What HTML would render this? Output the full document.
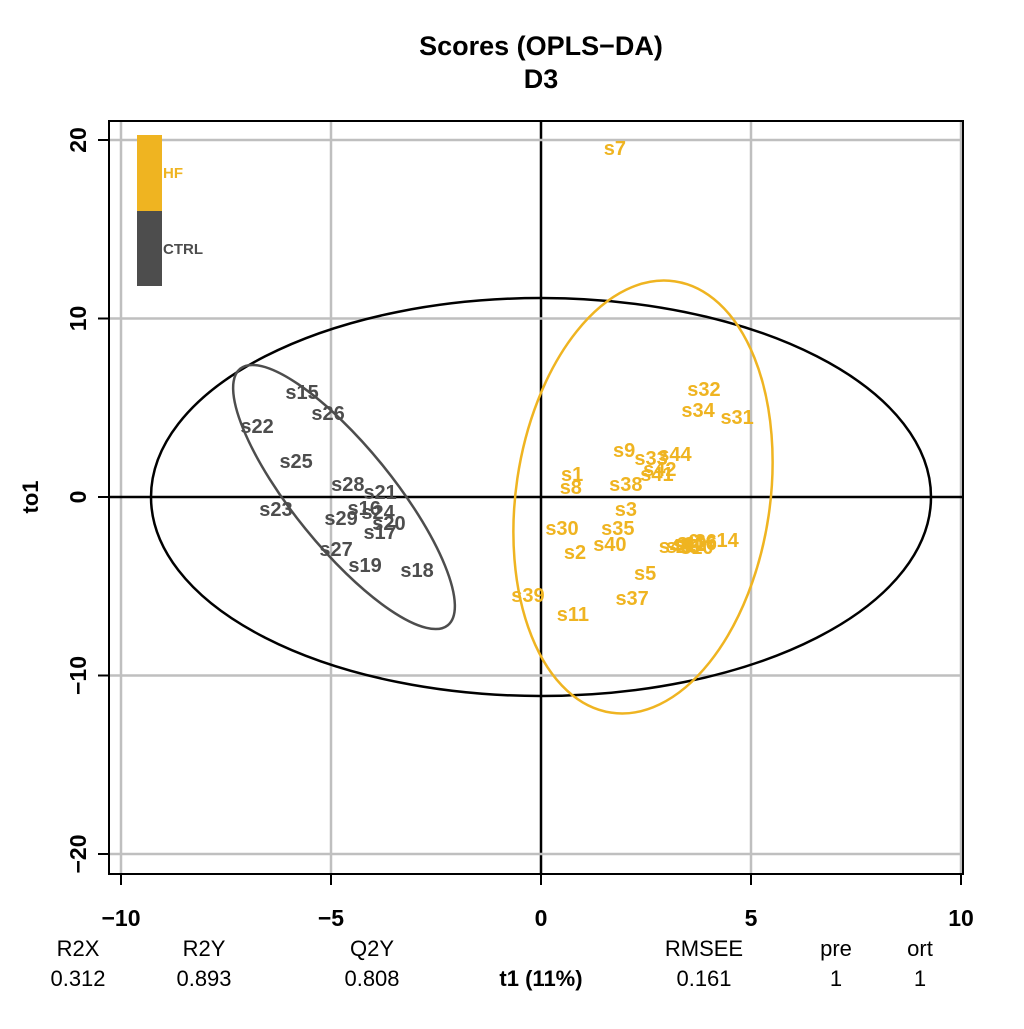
<!DOCTYPE html>
<html><head><meta charset="utf-8"><style>
body{margin:0;background:#fff}
svg text{font-family:"Liberation Sans",Arial,sans-serif}
</style></head><body>
<svg width="1024" height="1024" viewBox="0 0 1024 1024">
<rect width="1024" height="1024" fill="#fff"/>
<text x="541" y="55" font-size="27" font-weight="bold" text-anchor="middle">Scores (OPLS−DA)</text>
<text x="541" y="88" font-size="27" font-weight="bold" text-anchor="middle">D3</text>
<g id="grid"></g>
<ellipse cx="541" cy="497" rx="390" ry="199" fill="none" stroke="#000" stroke-width="2.5"/>
<ellipse cx="344" cy="497" rx="165" ry="50" transform="rotate(51 344 497)" fill="none" stroke="#4d4d4d" stroke-width="2.5"/>
<ellipse cx="643" cy="497" rx="127" ry="218" transform="rotate(8.4 643 497)" fill="none" stroke="#EFB421" stroke-width="2.5"/>
<g id="points"></g>
<rect x="109" y="121" width="854" height="753" fill="none" stroke="#000" stroke-width="2"/>
<g id="axes"></g>
<rect x="137" y="135" width="25" height="76" fill="#EFB421"/>
<rect x="137" y="211" width="25" height="75" fill="#4d4d4d"/>
<text x="163" y="178" font-size="15" font-weight="bold" fill="#EFB421">HF</text>
<text x="163" y="254" font-size="15" font-weight="bold" fill="#4d4d4d">CTRL</text>
<text transform="translate(38 497) rotate(-90)" font-size="22" font-weight="bold" text-anchor="middle">to1</text>
<text x="541" y="986" font-size="22" font-weight="bold" text-anchor="middle">t1 (11%)</text>
<g font-size="22" text-anchor="middle">
<text x="78" y="956">R2X</text><text x="78" y="986">0.312</text>
<text x="204" y="956">R2Y</text><text x="204" y="986">0.893</text>
<text x="372" y="956">Q2Y</text><text x="372" y="986">0.808</text>
<text x="704" y="956">RMSEE</text><text x="704" y="986">0.161</text>
<text x="836" y="956">pre</text><text x="836" y="986">1</text>
<text x="920" y="956">ort</text><text x="920" y="986">1</text>
</g>
</svg>
<script>
const xTicks=[-10,-5,0,5,10];
const yTicks=[-20,-10,0,10,20];
const labels=["s7","s32","s34","s31","s9","s33","s44","s42","s41","s1","s8","s38","s3","s30","s35","s40","s2","s14","s43","s13","s4","s6","s12","s36","s16","s10","s5","s37","s39","s11",
"s15","s26","s22","s25","s28","s21","s23","s16","s24","s29","s20","s17","s27","s19","s18"];
const groups=["HF","HF","HF","HF","HF","HF","HF","HF","HF","HF","HF","HF","HF","HF","HF","HF","HF","HF","HF","HF","HF","HF","HF","HF","HF","HF","HF","HF","HF","HF",
"CTRL","CTRL","CTRL","CTRL","CTRL","CTRL","CTRL","CTRL","CTRL","CTRL","CTRL","CTRL","CTRL","CTRL","CTRL"];
const t1=[1.76,3.88,3.74,4.67,1.98,2.62,3.19,2.83,2.76,0.74,0.71,2.02,2.02,0.5,1.83,1.64,0.81,4.31,3.2,3.37,3.4,3.5,3.55,3.79,3.79,3.71,2.48,2.17,-0.31,0.76,
-5.69,-5.07,-6.76,-5.83,-4.6,-3.83,-6.31,-4.21,-3.88,-4.76,-3.62,-3.83,-4.88,-4.19,-2.95];
const to1=[19.55,6.05,4.87,4.48,2.63,2.18,2.41,1.57,1.29,1.29,0.56,0.73,-0.67,-1.74,-1.74,-2.63,-3.08,-2.41,-2.75,-2.75,-2.63,-2.46,-2.63,-2.46,-2.58,-2.8,-4.26,-5.66,-5.49,-6.55,
5.88,4.71,3.98,2.02,0.73,0.28,-0.67,-0.62,-0.84,-1.18,-1.46,-1.96,-2.91,-3.81,-4.09];
const colors={HF:"#EFB421",CTRL:"#4d4d4d"};
const sx=v=>541+v*42, sy=v=>497-v*17.85;
const NS="http://www.w3.org/2000/svg";
function mk(tag,attrs,parent){const e=document.createElementNS(NS,tag);for(const k in attrs)e.setAttribute(k,attrs[k]);parent.appendChild(e);return e;}
const grid=document.getElementById('grid'), axes=document.getElementById('axes'), pts=document.getElementById('points');
xTicks.forEach(v=>{
 const l=mk('line',{x1:sx(v),x2:sx(v),y1:121,y2:874,stroke:v===0?'#000':'#bfbfbf','stroke-width':2.5},grid);
 
 
 const t=mk('line',{x1:sx(v),x2:sx(v),y1:874,y2:885,stroke:'#000','stroke-width':2},axes);
 
 
 const tx=mk('text',{x:sx(v),y:926,'font-size':23,'font-weight':'bold','text-anchor':'middle'},axes);
 tx.textContent=v<0?'−'+Math.abs(v):String(v);
 
 
});
yTicks.forEach(v=>{
 const l=mk('line',{x1:109,x2:963,y1:sy(v),y2:sy(v),stroke:v===0?'#000':'#bfbfbf','stroke-width':2.5},grid);
 
 
 const t=mk('line',{x1:98,x2:109,y1:sy(v),y2:sy(v),stroke:'#000','stroke-width':2},axes);
 
 
 const tx=mk('text',{transform:`translate(86 ${sy(v)}) rotate(-90)`,'font-size':23,'font-weight':'bold','text-anchor':'middle'},axes);
 tx.textContent=v<0?'−'+Math.abs(v):String(v);
 
 
});
labels.forEach((s,i)=>{
 const t=mk('text',{x:sx(t1[i]),y:sy(to1[i])+7,'font-size':20,'font-weight':'bold','text-anchor':'middle',fill:colors[groups[i]]},pts);
 t.textContent=s;
 
 
});
</script>
</body></html>
